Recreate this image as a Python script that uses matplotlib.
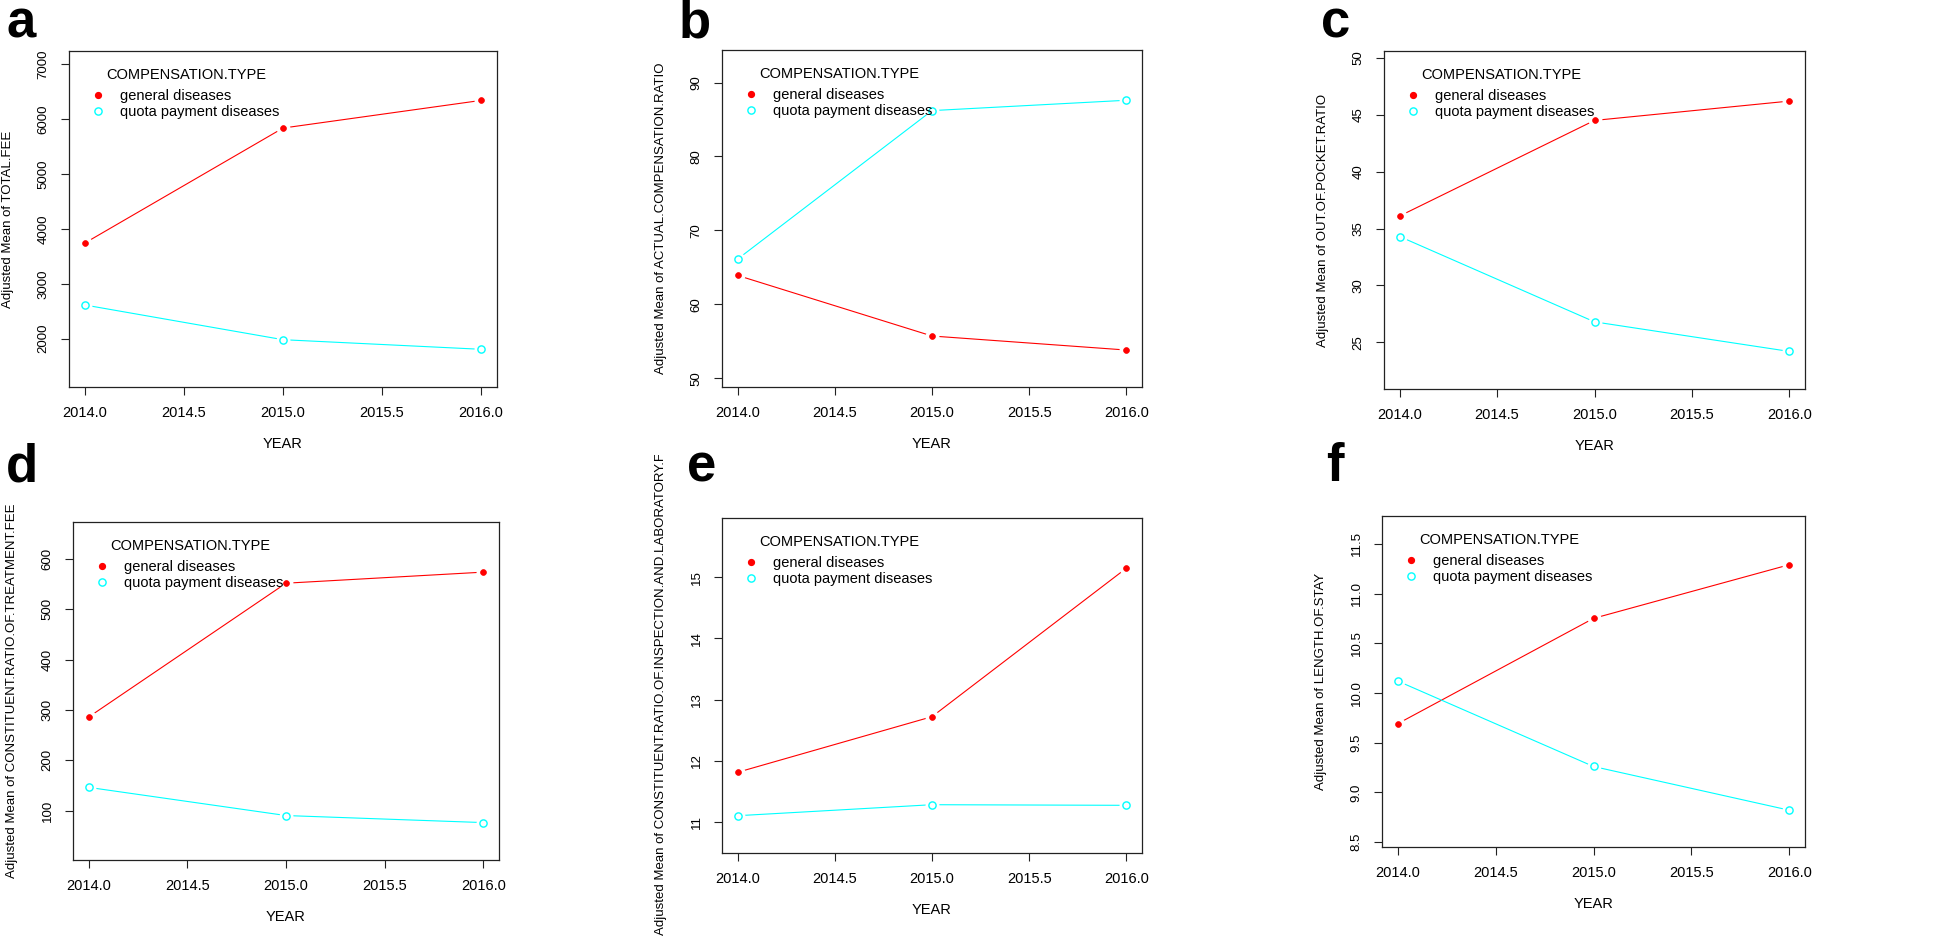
import matplotlib
matplotlib.use("Agg")
import matplotlib.pyplot as plt
from matplotlib.lines import Line2D
from matplotlib.transforms import Bbox, TransformedBbox

plt.rcParams["font.family"] = ["Liberation Sans", "DejaVu Sans"]

years = [2014, 2015, 2016]

total_fee_general = [3743, 5838, 6342]
total_fee_quota = [2614, 1982, 1807]

comp_ratio_general = [63.9, 55.7, 53.8]
comp_ratio_quota = [66.1, 86.2, 87.6]

oop_ratio_general = [36.1, 44.5, 46.2]
oop_ratio_quota = [34.3, 26.8, 24.2]

treatment_general = [286, 552, 574]
treatment_quota = [146, 90, 76]

inspection_general = [11.81, 12.72, 15.15]
inspection_quota = [11.10, 11.28, 11.27]

stay_general = [9.69, 10.75, 11.29]
stay_quota = [10.12, 9.26, 8.82]

panel_letters = ["a", "b", "c", "d", "e", "f"]
y_labels = [
    "Adjusted Mean of TOTAL.FEE",
    "Adjusted Mean of ACTUAL.COMPENSATION.RATIO",
    "Adjusted Mean of OUT.OF.POCKET.RATIO",
    "Adjusted Mean of CONSTITUENT.RATIO.OF.TREATMENT.FEE",
    "Adjusted Mean of CONSTITUENT.RATIO.OF.INSPECTION.AND.LABORATORY.FEE",
    "Adjusted Mean of LENGTH.OF.STAY",
]
general_series = [total_fee_general, comp_ratio_general, oop_ratio_general,
                  treatment_general, inspection_general, stay_general]
quota_series = [total_fee_quota, comp_ratio_quota, oop_ratio_quota,
                treatment_quota, inspection_quota, stay_quota]
y_limits = [(1120, 7242), (48.8, 94.4), (20.9, 50.6),
            (1.6, 673.7), (10.49, 15.97), (8.45, 11.78)]
y_ticks = [
    [2000, 3000, 4000, 5000, 6000, 7000],
    [50, 60, 70, 80, 90],
    [25, 30, 35, 40, 45, 50],
    [100, 200, 300, 400, 500, 600],
    [11, 12, 13, 14, 15],
    [8.5, 9.0, 9.5, 10.0, 10.5, 11.0, 11.5],
]
y_ticklabels = [
    ["2000", "3000", "4000", "5000", "6000", "7000"],
    ["50", "60", "70", "80", "90"],
    ["25", "30", "35", "40", "45", "50"],
    ["100", "200", "300", "400", "500", "600"],
    ["11", "12", "13", "14", "15"],
    ["8.5", "9.0", "9.5", "10.0", "10.5", "11.0", "11.5"],
]
x_ticks = [2014.0, 2014.5, 2015.0, 2015.5, 2016.0]
x_ticklabels = ["2014.0", "2014.5", "2015.0", "2015.5", "2016.0"]

legend_title = "COMPENSATION.TYPE"
legend_labels = ["general diseases", "quota payment diseases"]

RED = "#ff0000"
CYAN = "#00ffff"

W, H = 1946, 940
# axes boxes in pixels: left, top, right, bottom
boxes = [(69, 51, 497, 387), (722, 50, 1142, 387), (1384, 51, 1805, 389),
         (73, 522, 499, 860), (722, 518, 1142, 853), (1382, 516, 1805, 847)]
# panel letter positions (left, baseline) in pixels
letter_pos = [(6, 37), (679, 38), (1321, 38), (6, 482), (687, 482), (1326, 481)]

fig = plt.figure(figsize=(W / 100, H / 100), dpi=100)

for i in range(6):
    l, t, r, b = boxes[i]
    ax = fig.add_axes([l / W, 1 - b / H, (r - l) / W, (b - t) / H])
    aw, ah = r - l, b - t

    for ys, col, face in [(general_series[i], RED, RED), (quota_series[i], CYAN, "none")]:
        ax.plot(years, ys, color=col, lw=0.8, zorder=2)
        # white halo so the line stops short of each point, like R type="b"
        ax.plot(years, ys, ls="none", marker="o", ms=10, mfc="white", mec="none", zorder=3)
        if face == "none":
            ax.plot(years, ys, ls="none", marker="o", ms=5.2, mfc="none", mec=col, mew=1.0, zorder=4)
        else:
            ax.plot(years, ys, ls="none", marker="o", ms=4.2, mfc=col, mec=col, mew=0.5, zorder=4)

    ax.set_xlim(2013.92, 2016.08)
    ax.set_ylim(*y_limits[i])
    ax.set_xticks(x_ticks)
    ax.set_xticklabels(x_ticklabels, fontsize=10.5)
    ax.set_yticks(y_ticks[i])
    ax.set_yticklabels(y_ticklabels[i], fontsize=9.5, rotation=90, va="center")
    ax.tick_params(axis="both", length=6, width=0.8, color="#222222")
    ax.tick_params(axis="x", pad=8)
    ax.tick_params(axis="y", pad=8)
    for sp in ax.spines.values():
        sp.set_linewidth(0.9)
        sp.set_color("#222222")

    ax.set_xlabel("YEAR", fontsize=10.5, va="center")
    ax.xaxis.set_label_coords(0.5, -57 / ah)
    lab = ax.set_ylabel(y_labels[i], fontsize=9.5, va="center")
    ax.yaxis.set_label_coords(-61 / aw, 0.5)
    if i == 4:
        # the long label is cut off by the panel above, as in the original
        clip = TransformedBbox(Bbox.from_extents(0, 0, 1, 1 - 455 / H), fig.transFigure)
        lab.set_clip_box(clip)
        lab.set_clip_on(True)

    handles = [
        Line2D([], [], ls="none", marker="o", ms=4.2, mfc=RED, mec=RED),
        Line2D([], [], ls="none", marker="o", ms=5.2, mfc="none", mec=CYAN, mew=1.0),
    ]
    leg = ax.legend(handles, legend_labels, frameon=False,
                    loc="center left", bbox_to_anchor=(22 / aw, 1 - 53 / ah),
                    borderpad=0, borderaxespad=0, handlelength=1.0,
                    handletextpad=1.0, labelspacing=0.15, fontsize=10.5)
    leg.set_zorder(5)
    # legend heading, centred over the entries as R does
    ax.text(117 / aw, 1 - 24 / ah, legend_title, transform=ax.transAxes,
            fontsize=10.5, ha="center", va="center", zorder=5)

    lx, ly = letter_pos[i]
    fig.text(lx / W, 1 - ly / H, panel_letters[i], fontsize=38, fontweight="bold",
             ha="left", va="baseline")

fig.savefig("out.png", dpi=100)
